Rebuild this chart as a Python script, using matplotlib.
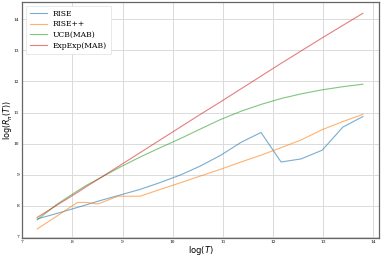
import numpy as np
import matplotlib.pyplot as plt

# log(T) grid and log regret values
logT = [7.30, 7.70, 8.10, 8.29, 8.51, 8.91, 9.35, 9.75, 10.15, 10.55,
        10.96, 11.36, 11.76, 12.16, 12.56, 12.98, 13.39, 13.79]
rise = [7.58, 7.76, 7.95, 8.04, 8.15, 8.33, 8.53, 8.75, 8.99, 9.28,
        9.63, 10.04, 10.36, 9.41, 9.51, 9.79, 10.53, 10.87]
rise_pp = [7.26, 7.68, 8.11, 8.11, 8.06, 8.31, 8.31, 8.53, 8.74, 8.96,
           9.18, 9.41, 9.63, 9.87, 10.12, 10.45, 10.71, 10.94]
ucb = [7.55, 8.06, 8.48, 8.67, 8.86, 9.21, 9.57, 9.87, 10.16, 10.47,
       10.78, 11.04, 11.26, 11.45, 11.60, 11.73, 11.83, 11.91]
expexp = [7.63, 8.03, 8.43, 8.63, 8.85, 9.26, 9.71, 10.12, 10.53, 10.94,
          11.35, 11.76, 12.17, 12.58, 12.98, 13.40, 13.80, 14.19]

labels = ['RISE', 'RISE++', 'UCB(MAB)', 'ExpExp(MAB)']
series = [rise, rise_pp, ucb, expexp]
colors = ['tab:blue', 'tab:orange', 'tab:green', 'tab:red']

fig = plt.figure(figsize=(3.82, 2.58), dpi=100)
ax = fig.add_axes([0.058, 0.079, 0.934, 0.913])

for y, lab, c in zip(series, labels, colors):
    ax.plot(logT, y, color=c, alpha=0.6, lw=0.8, label=lab)

ax.set_xlim(7, 14.11)
ax.set_ylim(6.98, 14.55)
ax.set_xticks(range(7, 15))
ax.set_yticks(range(7, 15))
ax.grid(True, color='#dadada', lw=0.7)
ax.set_axisbelow(True)
ax.tick_params(length=0, pad=2)
for lab in ax.get_xticklabels() + ax.get_yticklabels():
    lab.set_family('serif')
    lab.set_fontsize(3.2)
for s in ax.spines.values():
    s.set_color('#666666')
    s.set_linewidth(0.9)

ax.set_xlabel(r'log$(T)$', fontsize=6, labelpad=0)
ax.set_ylabel(r'log$(\hat{R}_\pi(T))$', fontsize=5.8)
ax.yaxis.set_label_coords(-0.019, 0.5)

leg = ax.legend(loc='upper left', prop={'family': 'serif', 'size': 5.5},
                handlelength=2.2, borderpad=0.5, labelspacing=0.35,
                framealpha=1, edgecolor='#e0e0e0', fancybox=False)
leg.get_frame().set_linewidth(0.5)

fig.savefig('out.png', dpi=100)
